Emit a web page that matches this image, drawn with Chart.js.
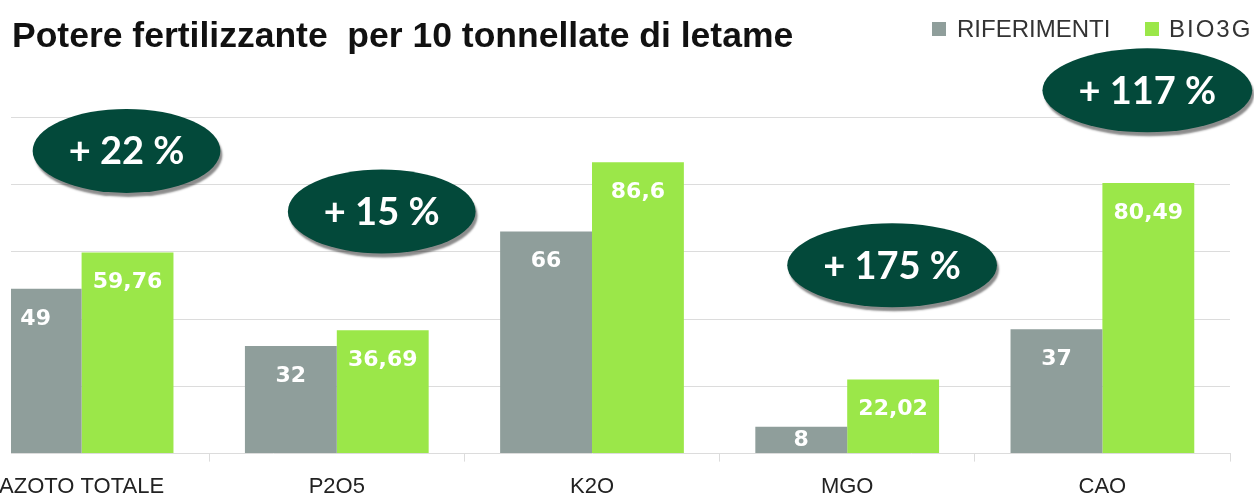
<!DOCTYPE html>
<html>
<head>
<meta charset="utf-8">
<script src="https://cdn.jsdelivr.net/npm/chart.js@4.4.1/dist/chart.umd.min.js"></script>
<style>
  body{margin:0;background:#fff;width:1254px;height:495px;overflow:hidden;position:relative;}
  .title{position:absolute;left:12px;top:15px;font-family:"Liberation Sans",sans-serif;font-weight:bold;font-size:35.5px;color:#111;white-space:nowrap;}
  .lg{position:absolute;top:15px;font-family:"Liberation Sans",sans-serif;font-size:24px;color:#333;white-space:nowrap;}
  .box{position:absolute;top:22px;width:14px;height:14px;}
  #myChart{position:absolute;left:-46px;top:0;
    clip-path:polygon(57px 0, 100% 0, 100% 100%, 0 100%, 0 456px, 57px 456px);}
</style>
</head>
<body>
<canvas id="myChart" width="1300" height="512"></canvas>
<div class="title">Potere fertilizzante&nbsp; per 10 tonnellate di letame</div>
<div class="box" style="left:932px;background:#8f9e9b"></div>
<div class="lg" style="left:957px">RIFERIMENTI</div>
<div class="box" style="left:1145px;background:#9be749"></div>
<div class="lg" style="left:1169px;letter-spacing:2px">BIO3G</div>
<script>
    // data
    const categories = ["AZOTO TOTALE", "P2O5", "K2O", "MGO", "CAO"];
    const riferimenti = [49, 32, 66, 8, 37];
    const bio3g = [59.76, 36.69, 86.6, 22.02, 80.49];
    const badgeText = ["+ 22 %", "+ 15 %", null, "+ 175 %", "+ 117 %"];

    // where the dark badges sit (value level on the y scale)
    const badgeLevel = [90, 72, null, 56, 108];

    const greyColor = "#8f9e9b";
    const greenColor = "#9be749";

    // white value labels inside the bars
    const valueLabels = {
        id: "valueLabels",
        afterDatasetsDraw(chart) {
            const ctx = chart.ctx;
            ctx.save();
            ctx.fillStyle = "#ffffff";
            ctx.font = "bold 22px 'DejaVu Sans'";
            ctx.textAlign = "center";
            ctx.textBaseline = "middle";
            chart.data.datasets.forEach((ds, di) => {
                chart.getDatasetMeta(di).data.forEach((bar, i) => {
                    let y = Math.min(bar.y + 30, (bar.y + bar.base) / 2);
                    let txt = String(ds.data[i]).replace(".", ",");
                    ctx.fillText(txt, bar.x, y);
                });
            });
            ctx.restore();
        }
    };

    // ellipse badges with the percentage gain
    const badges = {
        id: "badges",
        afterDraw(chart) {
            const ctx = chart.ctx;
            const xs = chart.scales.x, ys = chart.scales.y;
            const band = xs.getPixelForValue(1) - xs.getPixelForValue(0);
            ctx.save();
            ctx.font = "bold 38px Lato";
            badgeText.forEach((t, i) => {
                if (!t) return;
                let cx = xs.getPixelForValue(i) + band * 0.176;
                let cy = ys.getPixelForValue(badgeLevel[i]);
                let rx = ctx.measureText(t).width / 2 + 36;
                let ry = 42;
                ctx.save();
                ctx.shadowColor = "rgba(0,0,0,0.45)";
                ctx.shadowBlur = 2;
                ctx.shadowOffsetX = 2;
                ctx.shadowOffsetY = 4;
                ctx.fillStyle = "#03493a";
                ctx.beginPath();
                ctx.ellipse(cx, cy, rx, ry, 0, 0, Math.PI * 2);
                ctx.fill();
                ctx.restore();
                ctx.fillStyle = "#ffffff";
                ctx.textAlign = "center";
                ctx.textBaseline = "middle";
                ctx.fillText(t, cx, cy + 1);
            });
            ctx.restore();
        }
    };

    const ctx = document.getElementById("myChart");
    const myChart = new Chart(ctx, {
        type: "bar",
        data: {
            labels: categories,
            datasets: [{
                label: "RIFERIMENTI",
                data: riferimenti,
                backgroundColor: greyColor,
                categoryPercentage: 0.72,
                barPercentage: 1.0
            }, {
                label: "BIO3G",
                data: bio3g,
                backgroundColor: greenColor,
                categoryPercentage: 0.72,
                barPercentage: 1.0
            }]
        },
        options: {
            responsive: false,
            animation: false,
            layout: { padding: { top: 50, right: 24, left: 0, bottom: 0 } },
            plugins: {
                legend: { display: false },
                tooltip: { enabled: false }
            },
            scales: {
                x: {
                    grid: {
                        offset: true,
                        drawOnChartArea: false,
                        drawTicks: true,
                        tickLength: 8,
                        color: "#dcdcdc"
                    },
                    border: { display: true, color: "#dcdcdc" },
                    ticks: {
                        color: "#222",
                        padding: 12,
                        font: { family: "'Liberation Sans', sans-serif", size: 22 }
                    }
                },
                y: {
                    display: true,
                    min: 0,
                    max: 120,
                    ticks: { display: false, stepSize: 20 },
                    border: { display: false },
                    grid: {
                        drawTicks: false,
                        color: (c) => (c.tick.value > 0 && c.tick.value <= 100) ? "#dcdcdc" : "rgba(0,0,0,0)"
                    }
                }
            }
        },
        plugins: [valueLabels, badges]
    });
</script>
</body>
</html>
